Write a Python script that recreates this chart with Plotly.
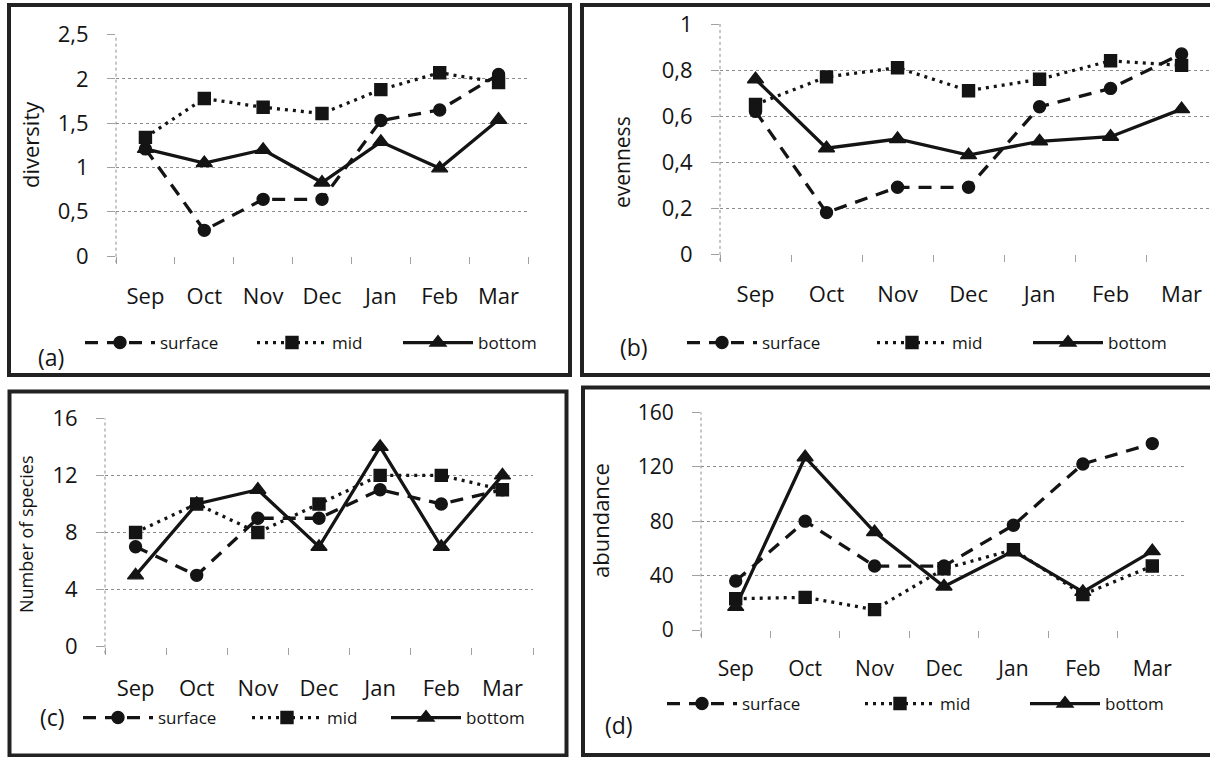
import plotly.graph_objects as go

months = ["Sep", "Oct", "Nov", "Dec", "Jan", "Feb", "Mar"]

# (a) diversity
div_surface = [1.21, 0.29, 0.64, 0.64, 1.53, 1.65, 2.05]
div_mid = [1.34, 1.78, 1.68, 1.61, 1.88, 2.07, 1.96]
div_bottom = [1.21, 1.05, 1.20, 0.83, 1.29, 0.99, 1.54]

# (b) evenness
even_surface = [0.62, 0.18, 0.29, 0.29, 0.64, 0.72, 0.87]
even_mid = [0.65, 0.77, 0.81, 0.71, 0.76, 0.84, 0.82]
even_bottom = [0.76, 0.46, 0.50, 0.43, 0.49, 0.51, 0.63]

# (c) number of species
sp_surface = [7, 5, 9, 9, 11, 10, 11]
sp_mid = [8, 10, 8, 10, 12, 12, 11]
sp_bottom = [5, 10, 11, 7, 14, 7, 12]

# (d) abundance
ab_surface = [36, 80, 47, 47, 77, 122, 137]
ab_mid = [23, 24, 15, 45, 59, 26, 47]
ab_bottom = [17, 127, 72, 32, 58, 28, 58]

series_names = ["surface", "mid", "bottom"]

W, H = 1210, 757
INK = "#141414"
FONT = "Open Sans"


def px(x):
    return x / W


def py(y):
    return 1 - y / H


STYLES = {
    "surface": dict(dash="13px,9px", symbol="circle", size=12),
    "mid": dict(dash="3px,5px", symbol="square", size=12),
    "bottom": dict(dash="solid", symbol="triangle-up", size=14),
}

panels = [
    dict(key="a", data=[div_surface, div_mid, div_bottom], title="diversity",
         xdom=(116, 528), ydom=(34.7, 256), yrange=[0, 2.5], dtick=0.5,
         xrange=[-0.5, 6.5], tick_fs=22, title_fs=22, title_pos=(30, 145),
         letter_pos=(51, 357), legend_y=343, legend_text_x=[159, 331, 477],
         xstand=25),
    dict(key="b", data=[even_surface, even_mid, even_bottom], title="evenness",
         xdom=(720, 1210), ydom=(24, 254), yrange=[0, 1], dtick=0.2,
         xrange=[-0.5, 6.4], tick_fs=22, title_fs=21, title_pos=(622, 162),
         letter_pos=(634, 347), legend_y=343, legend_text_x=[761, 951, 1107],
         xstand=25),
    dict(key="c", data=[sp_surface, sp_mid, sp_bottom], title="Number of species",
         xdom=(105, 533), ydom=(418.3, 646.7), yrange=[0, 16], dtick=4,
         xrange=[-0.5, 6.5], tick_fs=22, title_fs=18, title_pos=(26, 534),
         letter_pos=(52, 717), legend_y=718, legend_text_x=[157, 326, 465],
         xstand=26),
    dict(key="d", data=[ab_surface, ab_mid, ab_bottom], title="abundance",
         xdom=(701, 1187), ydom=(412.3, 630), yrange=[0, 160], dtick=40,
         xrange=[-0.5, 6.5], tick_fs=21, title_fs=22, title_pos=(600, 521),
         letter_pos=(619, 725), legend_y=704, legend_text_x=[741, 939, 1104],
         xstand=24),
]

fig = go.Figure()
layout = dict(
    width=W, height=H, margin=dict(l=0, r=0, t=0, b=0, pad=0),
    autosize=False,
    paper_bgcolor="white", plot_bgcolor="white",
    separators=", ", font=dict(family=FONT, color=INK), showlegend=True,
)
shapes = []
annotations = []

legend_idx = 0
for i, p in enumerate(panels):
    n = "" if i == 0 else str(i + 1)
    xa, ya = "x" + n, "y" + n
    layout["xaxis" + n] = dict(
        domain=[px(p["xdom"][0]), px(p["xdom"][1])], anchor=ya,
        type="category", categoryorder="array", categoryarray=months,
        range=p["xrange"], tickson="boundaries", ticks="outside", ticklen=7,
        tickcolor="#a0a0a0", tickwidth=1, showgrid=False, showline=False,
        zeroline=False, tickfont=dict(size=p["tick_fs"], color=INK),
        ticklabelstandoff=p["xstand"], fixedrange=True, automargin=False,
    )
    layout["yaxis" + n] = dict(
        domain=[py(p["ydom"][1]), py(p["ydom"][0])], anchor=xa,
        range=p["yrange"], dtick=p["dtick"], tick0=0, showgrid=True,
        gridcolor="#8c8c8c", griddash="dot", gridwidth=1, ticks="outside",
        ticklen=8, tickcolor="#a0a0a0", tickwidth=1, showline=False,
        zeroline=False, tickfont=dict(size=p["tick_fs"], color=INK),
        ticklabelstandoff=14, fixedrange=True, automargin=False,
    )
    # dotted vertical axis line
    shapes.append(dict(type="line", xref=xa + " domain", yref=ya + " domain",
                       x0=0, x1=0, y0=-0.03, y1=1,
                       line=dict(color="#8c8c8c", width=1, dash="dot")))
    for j, (name, vals) in enumerate(zip(series_names, p["data"])):
        st = STYLES[name]
        legend_idx += 1
        lname = "legend" if legend_idx == 1 else "legend" + str(legend_idx)
        fig.add_trace(go.Scatter(
            x=months, y=vals, name=name, mode="lines+markers",
            xaxis=xa, yaxis=ya, legend=lname, cliponaxis=False,
            line=dict(color=INK, width=3.3, dash=st["dash"]),
            marker=dict(symbol=st["symbol"], size=st["size"], color=INK,
                        line=dict(color=INK, width=1.4)),
        ))
        layout[lname] = dict(
            x=px(p["legend_text_x"][j] - 79), y=py(p["legend_y"]),
            xanchor="left", yanchor="middle", orientation="h",
            itemwidth=70, bgcolor="rgba(0,0,0,0)", borderwidth=0,
            font=dict(size=17, color=INK, family=FONT),
        )
    annotations.append(dict(text=p["title"], xref="paper", yref="paper",
                            x=px(p["title_pos"][0]), y=py(p["title_pos"][1]),
                            textangle=-90, showarrow=False,
                            xanchor="center", yanchor="middle",
                            font=dict(size=p["title_fs"], color=INK)))
    annotations.append(dict(text="(" + p["key"] + ")", xref="paper", yref="paper",
                            x=px(p["letter_pos"][0]), y=py(p["letter_pos"][1]),
                            showarrow=False, xanchor="center", yanchor="middle",
                            font=dict(size=23, color=INK)))

# panel frames
frames = [(9, 5, 570, 375), (582, 5, 1216, 375), (9.5, 391.5, 566.5, 755.5),
          (583, 387.5, 1216, 755)]
for (x0, y0, x1, y1) in frames:
    shapes.append(dict(type="rect", xref="paper", yref="paper",
                       x0=px(x0), x1=px(x1), y0=py(y1), y1=py(y0),
                       line=dict(color="#222222", width=4),
                       fillcolor="rgba(0,0,0,0)", layer="above"))

layout["shapes"] = shapes
layout["annotations"] = annotations
fig.update_layout(**layout)
fig.write_html(
    "out.html",
    config={"displayModeBar": False},
    post_script="document.body.style.margin='0';document.body.style.overflow='hidden';",
)
